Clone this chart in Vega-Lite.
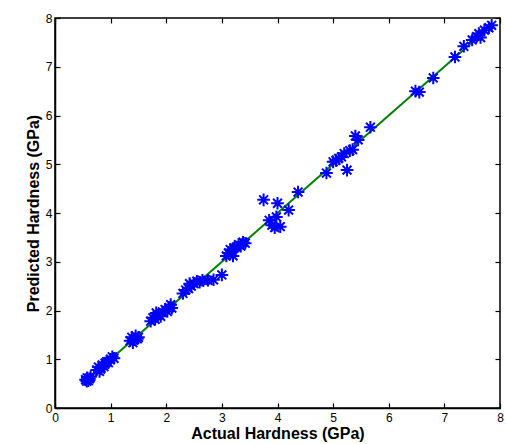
{
  "$schema": "https://vega.github.io/schema/vega-lite/v6.json",
  "width": 445,
  "height": 390,
  "autosize": "none",
  "padding": {"left": 55, "top": 18, "right": 6, "bottom": 36},
  "background": "white",
  "config": {
    "view": {"stroke": "black", "strokeWidth": 1.5},
    "font": "Liberation Sans",
    "axis": {
      "grid": false,
      "zindex": 1,
      "domainColor": "black",
      "domainWidth": 1.5,
      "tickColor": "black",
      "tickWidth": 1.2,
      "tickSize": -5,
      "labelFont": "Liberation Sans",
      "labelFontSize": 12,
      "labelColor": "black",
      "titleFont": "Liberation Sans",
      "titleFontSize": 16,
      "titleFontWeight": "bold",
      "titleColor": "black"
    }
  },
  "datasets": {
    "pts": [
      {"actual": 0.55, "predicted": 0.58}, {"actual": 0.58, "predicted": 0.62}, {"actual": 0.6, "predicted": 0.56}, {"actual": 0.62, "predicted": 0.6}, {"actual": 0.64, "predicted": 0.64}, {"actual": 0.57, "predicted": 0.55},
      {"actual": 0.75, "predicted": 0.78}, {"actual": 0.78, "predicted": 0.84}, {"actual": 0.82, "predicted": 0.8}, {"actual": 0.85, "predicted": 0.88}, {"actual": 0.88, "predicted": 0.85}, {"actual": 0.9, "predicted": 0.92}, {"actual": 0.93, "predicted": 0.95}, {"actual": 0.96, "predicted": 0.93}, {"actual": 1.0, "predicted": 1.0}, {"actual": 1.03, "predicted": 1.05}, {"actual": 1.06, "predicted": 1.02}, {"actual": 0.8, "predicted": 0.75},
      {"actual": 1.35, "predicted": 1.38}, {"actual": 1.38, "predicted": 1.45}, {"actual": 1.42, "predicted": 1.4}, {"actual": 1.45, "predicted": 1.48}, {"actual": 1.48, "predicted": 1.42}, {"actual": 1.4, "predicted": 1.34}, {"actual": 1.5, "predicted": 1.45},
      {"actual": 1.72, "predicted": 1.78}, {"actual": 1.76, "predicted": 1.85}, {"actual": 1.8, "predicted": 1.82}, {"actual": 1.85, "predicted": 1.9}, {"actual": 1.9, "predicted": 1.88}, {"actual": 1.93, "predicted": 1.97}, {"actual": 1.98, "predicted": 2.02}, {"actual": 2.02, "predicted": 1.98}, {"actual": 2.05, "predicted": 2.06}, {"actual": 2.1, "predicted": 2.05}, {"actual": 2.08, "predicted": 2.12}, {"actual": 1.82, "predicted": 1.95},
      {"actual": 2.3, "predicted": 2.35}, {"actual": 2.35, "predicted": 2.42}, {"actual": 2.4, "predicted": 2.45}, {"actual": 2.45, "predicted": 2.5}, {"actual": 2.5, "predicted": 2.55}, {"actual": 2.55, "predicted": 2.6}, {"actual": 2.6, "predicted": 2.58}, {"actual": 2.42, "predicted": 2.55}, {"actual": 2.65, "predicted": 2.62},
      {"actual": 2.75, "predicted": 2.62}, {"actual": 2.85, "predicted": 2.63}, {"actual": 3.0, "predicted": 2.73},
      {"actual": 3.08, "predicted": 3.12}, {"actual": 3.12, "predicted": 3.18}, {"actual": 3.18, "predicted": 3.22}, {"actual": 3.22, "predicted": 3.28}, {"actual": 3.26, "predicted": 3.3}, {"actual": 3.3, "predicted": 3.35}, {"actual": 3.34, "predicted": 3.32}, {"actual": 3.38, "predicted": 3.4}, {"actual": 3.42, "predicted": 3.38}, {"actual": 3.2, "predicted": 3.12}, {"actual": 3.15, "predicted": 3.25},
      {"actual": 3.75, "predicted": 4.27}, {"actual": 3.85, "predicted": 3.85}, {"actual": 3.9, "predicted": 3.75}, {"actual": 3.95, "predicted": 3.7}, {"actual": 3.98, "predicted": 3.92}, {"actual": 4.0, "predicted": 4.2}, {"actual": 4.2, "predicted": 4.06}, {"actual": 4.37, "predicted": 4.43}, {"actual": 4.05, "predicted": 3.72},
      {"actual": 4.88, "predicted": 4.82}, {"actual": 5.0, "predicted": 5.05}, {"actual": 5.05, "predicted": 5.08}, {"actual": 5.1, "predicted": 5.12}, {"actual": 5.15, "predicted": 5.15}, {"actual": 5.2, "predicted": 5.22}, {"actual": 5.25, "predicted": 4.88}, {"actual": 5.3, "predicted": 5.28}, {"actual": 5.35, "predicted": 5.3}, {"actual": 5.4, "predicted": 5.58}, {"actual": 5.45, "predicted": 5.5}, {"actual": 5.67, "predicted": 5.76},
      {"actual": 6.48, "predicted": 6.5}, {"actual": 6.55, "predicted": 6.48}, {"actual": 6.8, "predicted": 6.77}, {"actual": 7.19, "predicted": 7.2}, {"actual": 7.35, "predicted": 7.42}, {"actual": 7.5, "predicted": 7.55}, {"actual": 7.58, "predicted": 7.62}, {"actual": 7.65, "predicted": 7.6}, {"actual": 7.72, "predicted": 7.75}, {"actual": 7.8, "predicted": 7.8}, {"actual": 7.85, "predicted": 7.85}, {"actual": 7.62, "predicted": 7.68}
    ],
    "fit": [
      {"actual": 0.57, "predicted": 0.57},
      {"actual": 7.87, "predicted": 7.87}
    ]
  },
  "layer": [
    {
      "data": {"name": "fit"},
      "mark": {"type": "line", "color": "#008000", "strokeWidth": 2},
      "encoding": {
        "x": {"field": "actual", "type": "quantitative", "scale": {"domain": [0, 8], "nice": false},
              "axis": {"title": "Actual Hardness (GPa)", "orient": "bottom", "values": [0,1,2,3,4,5,6,7,8], "labelPadding": 9, "titlePadding": 2, "labelFlush": false}},
        "y": {"field": "predicted", "type": "quantitative", "scale": {"domain": [0, 8], "nice": false},
              "axis": {"title": "Predicted Hardness (GPa)", "orient": "left", "values": [0,1,2,3,4,5,6,7,8], "labelPadding": 8, "titlePadding": 4, "labelFlush": false}}
      }
    },
    {
      "data": {"name": "pts"},
      "mark": {
        "type": "point",
        "shape": "M-1,0L1,0M0,-1L0,1M-0.7,-0.7L0.7,0.7M-0.7,0.7L0.7,-0.7",
        "filled": false,
        "stroke": "#0000ff",
        "strokeWidth": 2,
        "size": 160,
        "opacity": 1
      },
      "encoding": {
        "x": {"field": "actual", "type": "quantitative", "axis": {"orient": "top", "title": null, "labels": false, "values": [0,1,2,3,4,5,6,7,8], "domain": false}},
        "y": {"field": "predicted", "type": "quantitative", "axis": {"orient": "right", "title": null, "labels": false, "values": [0,1,2,3,4,5,6,7,8], "domain": false}}
      }
    }
  ],
  "resolve": {"axis": {"x": "independent", "y": "independent"}}
}
